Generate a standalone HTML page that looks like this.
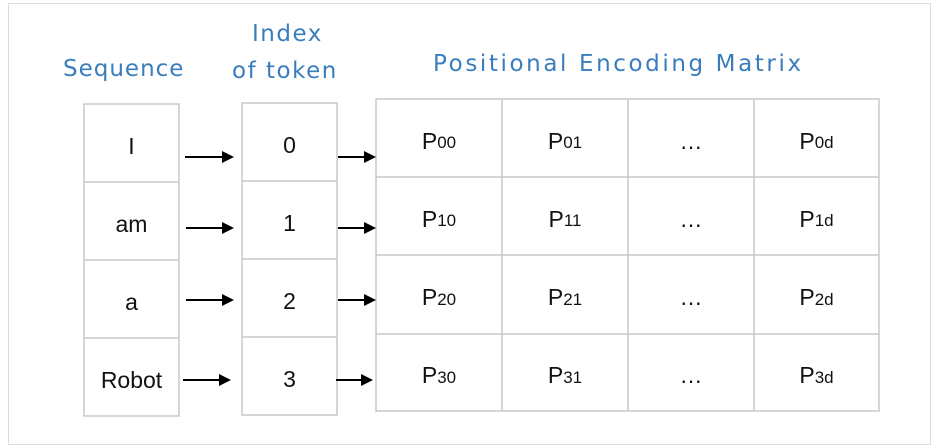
<!DOCTYPE html>
<html><head><meta charset="utf-8"><style>
body{margin:0;width:932px;height:429px;background:#fff;position:relative;overflow:hidden;font-family:"Liberation Sans",Arial,sans-serif}
.frame{position:absolute;left:8px;top:3px;width:921px;height:440px;border:1px solid #ddd}
.cell{position:absolute;display:flex;align-items:center;justify-content:center;font-size:23px;color:#111;box-sizing:border-box;padding-top:6px}
.h{position:absolute;color:#3a7dbd;font-family:"DejaVu Sans",sans-serif;font-size:23px;white-space:nowrap}
sub{font-size:17px;vertical-align:baseline;position:relative;top:2px}
</style></head><body>
<div class="frame"></div>
<div class="h" style="left:63px;top:56px;letter-spacing:1px">Sequence</div>
<div class="h" style="left:252px;top:21px;letter-spacing:1.5px">Index</div>
<div class="h" style="left:232px;top:58px;letter-spacing:1.5px">of token</div>
<div class="h" style="left:433px;top:51px;letter-spacing:2.6px">Positional Encoding Matrix</div>

<svg width="932" height="429" style="position:absolute;left:0;top:0">
<g stroke="#c8c8c8" stroke-width="1.5" fill="none">
<rect x="84" y="104" width="95" height="312"/>
<line x1="84" y1="182" x2="179" y2="182"/><line x1="84" y1="260" x2="179" y2="260"/><line x1="84" y1="338" x2="179" y2="338"/>
<rect x="242" y="103" width="95" height="312"/>
<line x1="242" y1="181" x2="337" y2="181"/><line x1="242" y1="259" x2="337" y2="259"/><line x1="242" y1="337" x2="337" y2="337"/>
<rect x="376" y="99" width="503" height="312"/>
<line x1="376" y1="177" x2="879" y2="177"/><line x1="376" y1="255" x2="879" y2="255"/><line x1="376" y1="334" x2="879" y2="334"/>
<line x1="502" y1="99" x2="502" y2="411"/><line x1="628" y1="99" x2="628" y2="411"/><line x1="754" y1="99" x2="754" y2="411"/>
</g>
<g stroke="#000" stroke-width="2" fill="#000">
<line x1="185" y1="157" x2="224" y2="157"/><polygon points="222,151 234,157 222,163" stroke="none"/>
<line x1="338" y1="157" x2="366" y2="157"/><polygon points="364,151 376,157 364,163" stroke="none"/>
<line x1="186" y1="228" x2="224" y2="228"/><polygon points="222,222 234,228 222,234" stroke="none"/>
<line x1="338" y1="228" x2="366" y2="228"/><polygon points="364,222 376,228 364,234" stroke="none"/>
<line x1="186" y1="300" x2="224" y2="300"/><polygon points="222,294 234,300 222,306" stroke="none"/>
<line x1="338" y1="300" x2="366" y2="300"/><polygon points="364,294 376,300 364,306" stroke="none"/>
<line x1="183" y1="380" x2="221" y2="380"/><polygon points="219,374 231,380 219,386" stroke="none"/>
<line x1="336" y1="380" x2="363" y2="380"/><polygon points="361,374 373,380 361,386" stroke="none"/>
</g>
</svg>

<div class="cell" style="left:84px;top:104px;width:95px;height:78px">I</div>
<div class="cell" style="left:84px;top:182px;width:95px;height:78px">am</div>
<div class="cell" style="left:84px;top:260px;width:95px;height:78px">a</div>
<div class="cell" style="left:84px;top:338px;width:95px;height:78px">Robot</div>

<div class="cell" style="left:242px;top:103px;width:95px;height:78px">0</div>
<div class="cell" style="left:242px;top:181px;width:95px;height:78px">1</div>
<div class="cell" style="left:242px;top:259px;width:95px;height:78px">2</div>
<div class="cell" style="left:242px;top:337px;width:95px;height:78px">3</div>

<div class="cell" style="left:376px;top:99px;width:126px;height:78px">P<sub>00</sub></div>
<div class="cell" style="left:502px;top:99px;width:126px;height:78px">P<sub>01</sub></div>
<div class="cell" style="left:628px;top:99px;width:126px;height:78px">…</div>
<div class="cell" style="left:754px;top:99px;width:125px;height:78px">P<sub>0d</sub></div>

<div class="cell" style="left:376px;top:177px;width:126px;height:78px">P<sub>10</sub></div>
<div class="cell" style="left:502px;top:177px;width:126px;height:78px">P<sub>11</sub></div>
<div class="cell" style="left:628px;top:177px;width:126px;height:78px">…</div>
<div class="cell" style="left:754px;top:177px;width:125px;height:78px">P<sub>1d</sub></div>

<div class="cell" style="left:376px;top:255px;width:126px;height:79px">P<sub>20</sub></div>
<div class="cell" style="left:502px;top:255px;width:126px;height:79px">P<sub>21</sub></div>
<div class="cell" style="left:628px;top:255px;width:126px;height:79px">…</div>
<div class="cell" style="left:754px;top:255px;width:125px;height:79px">P<sub>2d</sub></div>

<div class="cell" style="left:376px;top:334px;width:126px;height:77px">P<sub>30</sub></div>
<div class="cell" style="left:502px;top:334px;width:126px;height:77px">P<sub>31</sub></div>
<div class="cell" style="left:628px;top:334px;width:126px;height:77px">…</div>
<div class="cell" style="left:754px;top:334px;width:125px;height:77px">P<sub>3d</sub></div>
</body></html>
